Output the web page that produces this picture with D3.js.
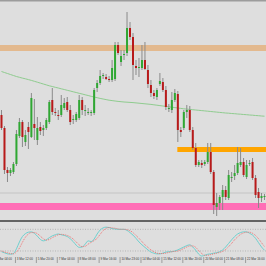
<!DOCTYPE html>
<html><head><meta charset="utf-8">
<script src="https://cdn.jsdelivr.net/npm/d3@7"></script>
<style>html,body{margin:0;padding:0;background:#dedede;overflow:hidden}svg{display:block}</style>
</head><body>
<script>
// ---- DATA ----
// OHLC per bar: [open, high, low, close]
const candles = [
[1.0785,1.0790,1.0770,1.0772],[1.0772,1.0774,1.0726,1.0730],[1.0730,1.0733,1.0718,1.0727],[1.0727,1.0732,1.0724,1.0730],
[1.0728,1.0738,1.0726,1.0736],[1.0736,1.0770,1.0734,1.0766],[1.0764,1.0782,1.0762,1.0778],[1.0778,1.0780,1.0753,1.0763],
[1.0758,1.0770,1.0754,1.0765],[1.0773,1.0778,1.0751,1.0768],[1.0763,1.0807,1.0762,1.0802],[1.0776,1.0801,1.0760,1.0772],
[1.0760,1.0783,1.0755,1.0772],[1.0773,1.0778,1.0765,1.0769],[1.0770,1.0775,1.0764,1.0772],[1.0772,1.0782,1.0770,1.0780],
[1.0778,1.0800,1.0776,1.0798],[1.0800,1.0812,1.0785,1.0788],[1.0788,1.0792,1.0784,1.0787],[1.0785,1.0790,1.0780,1.0784],
[1.0785,1.0805,1.0783,1.0795],[1.0792,1.0802,1.0790,1.0797],[1.0798,1.0803,1.0788,1.0790],[1.0790,1.0795,1.0775,1.0778],
[1.0780,1.0785,1.0776,1.0781],[1.0780,1.0788,1.0778,1.0786],[1.0782,1.0805,1.0780,1.0800],[1.0800,1.0803,1.0785,1.0790],
[1.0789,1.0795,1.0784,1.0790],[1.0788,1.0792,1.0785,1.0788],[1.0787,1.0790,1.0784,1.0788],[1.0787,1.0812,1.0785,1.0810],
[1.0812,1.0820,1.0808,1.0817],[1.0817,1.0830,1.0815,1.0824],[1.0824,1.0827,1.0821,1.0825],[1.0823,1.0826,1.0820,1.0821],
[1.0821,1.0824,1.0818,1.0820],[1.0820,1.0840,1.0818,1.0832],[1.0821,1.0858,1.0819,1.0855],[1.0855,1.0858,1.0845,1.0847],
[1.0838,1.0850,1.0834,1.0844],[1.0845,1.0850,1.0840,1.0846],[1.0847,1.0888,1.0844,1.0872],[1.0872,1.0878,1.0860,1.0863],
[1.0863,1.0867,1.0820,1.0835],[1.0834,1.0840,1.0825,1.0832],[1.0832,1.0842,1.0823,1.0833],[1.0832,1.0855,1.0830,1.0840],
[1.0840,1.0858,1.0830,1.0831],[1.0830,1.0835,1.0812,1.0816],[1.0815,1.0820,1.0803,1.0807],[1.0807,1.0810,1.0801,1.0804],
[1.0803,1.0812,1.0800,1.0810],[1.0816,1.0827,1.0814,1.0819],[1.0818,1.0822,1.0808,1.0810],[1.0810,1.0814,1.0790,1.0793],
[1.0792,1.0796,1.0788,1.0792],[1.0790,1.0808,1.0787,1.0800],[1.0800,1.0811,1.0798,1.0807],[1.0806,1.0809,1.0758,1.0770],
[1.0770,1.0773,1.0763,1.0768],[1.0772,1.0790,1.0770,1.0788],[1.0788,1.0795,1.0782,1.0790],[1.0790,1.0794,1.0768,1.0770],
[1.0770,1.0773,1.0750,1.0752],[1.0752,1.0757,1.0733,1.0735],[1.0735,1.0740,1.0733,1.0738],[1.0737,1.0740,1.0732,1.0735],
[1.0736,1.0740,1.0734,1.0738],[1.0738,1.0757,1.0736,1.0748],[1.0748,1.0757,1.0726,1.0728],[1.0728,1.0730,1.0686,1.0695],
[1.0693,1.0707,1.0684,1.0697],[1.0697,1.0705,1.0690,1.0703],[1.0703,1.0715,1.0690,1.0710],[1.0710,1.0714,1.0700,1.0703],
[1.0702,1.0730,1.0700,1.0725],[1.0722,1.0728,1.0718,1.0723],[1.0724,1.0735,1.0720,1.0727],[1.0727,1.0753,1.0725,1.0737],
[1.0735,1.0752,1.0733,1.0738],[1.0738,1.0742,1.0723,1.0725],[1.0723,1.0740,1.0721,1.0735],[1.0736,1.0740,1.0734,1.0737],
[1.0738,1.0742,1.0720,1.0722],[1.0722,1.0725,1.0702,1.0705],[1.0708,1.0712,1.0692,1.0702],[1.0702,1.0707,1.0698,1.0704],
[1.0703,1.0706,1.0700,1.0704]
];
// long-period moving average per bar
const maValues = [
1.08285,1.08275,1.08265,1.08255,1.08245,1.08235,1.08227,1.08219,1.08212,1.08204,1.08196,1.08187,1.08178,1.08169,1.08160,1.08151,
1.08142,1.08135,1.08127,1.08120,1.08112,1.08105,1.08097,1.08090,1.08082,1.08075,1.08067,1.08060,1.08052,1.08045,1.08037,1.08030,
1.08023,1.08016,1.08010,1.08004,1.07998,1.07994,1.07990,1.07986,1.07983,1.07980,1.07978,1.07976,1.07974,1.07971,1.07968,1.07965,
1.07962,1.07959,1.07956,1.07952,1.07948,1.07944,1.07940,1.07936,1.07932,1.07928,1.07924,1.07920,1.07916,1.07912,1.07909,1.07906,
1.07903,1.07900,1.07897,1.07894,1.07891,1.07888,1.07885,1.07882,1.07879,1.07876,1.07873,1.07870,1.07868,1.07865,1.07863,1.07860,
1.07858,1.07855,1.07853,1.07850,1.07848,1.07845,1.07843,1.07840,1.07838
];
// stochastic oscillator: main and signal
const stochMain = [18,15,12,11,13,26,45,60,68,72,73,69,61,52,48,51,57,62,65,67,65,63,60,54,46,36,30,31,39,48,46,53,67,78,84,86,85,82,81,80,80,80,77,71,64,55,45,37,30,23,17,14,12,12,14,17,18,18,20,23,27,31,35,37,31,22,11,6,8,11,12,14,15,18,23,31,41,51,60,67,71,73,73,69,64,55,43,31,22];
const stochSignal = [20,17,15,13,12,17,28,44,58,67,71,71,68,61,54,50,52,57,61,65,66,65,63,59,53,45,37,32,33,39,44,49,55,66,76,83,85,84,83,81,80,80,79,76,71,63,55,46,37,30,23,18,14,13,13,14,16,18,19,20,23,27,31,34,34,30,21,13,8,8,10,12,14,16,19,24,32,41,51,59,66,70,72,72,69,63,54,43,32];
const stochLevels = [80, 20];
// horizontal zones [low, high]
const resistanceZone = [1.0849, 1.0855];
const midZone = [1.0748, 1.0753];
const midZoneStartBar = 59;
const supportZone = [1.0690, 1.0697];
const bidLine = 1.0707;
// time axis
const timeLabels = ["2 Mar 04:00","3 Mar 12:00","5 Mar 20:00","7 Mar 04:00","8 Mar 08:00","9 Mar 16:00","10 Mar 23:00","14 Mar 04:00","15 Mar 12:00","16 Mar 20:00","20 Mar 04:00","21 Mar 08:00","22 Mar 16:00"];
const timeLabelBars = [-2,5,12,19,26,33,40,47,54,61,68,75,82];

// ---- DRAW ----
const W = 266, H = 266;
const svg = d3.select("body").append("svg").attr("width", W).attr("height", H);
svg.append("rect").attr("width", W).attr("height", H).attr("fill", "#dedede");

const x = d3.scaleLinear().domain([0, candles.length]).range([0, W]);
const y = d3.scaleLinear().domain([1.0900, 1.0634]).range([0, 266]);
const ys = d3.scaleLinear().domain([0, 100]).range([258.2, 222.1]);

// top frame line
svg.append("line").attr("x1", 0).attr("x2", W).attr("y1", 0.75).attr("y2", 0.75)
  .attr("stroke", "#9c9c9c").attr("stroke-width", 1.5);

// zones
svg.append("rect").attr("x", 0).attr("width", W)
  .attr("y", y(resistanceZone[1])).attr("height", y(resistanceZone[0]) - y(resistanceZone[1]))
  .attr("fill", "#e3b98e");
svg.append("rect").attr("x", x(midZoneStartBar) + 1).attr("width", W - x(midZoneStartBar) - 1)
  .attr("y", y(midZone[1])).attr("height", y(midZone[0]) - y(midZone[1]))
  .attr("fill", "#ffa500");
svg.append("rect").attr("x", 0).attr("width", W)
  .attr("y", y(supportZone[1])).attr("height", y(supportZone[0]) - y(supportZone[1]))
  .attr("fill", "#ff6eb6");
svg.append("line").attr("x1", 0).attr("x2", W).attr("y1", y(bidLine)).attr("y2", y(bidLine))
  .attr("stroke", "#c4c4c4").attr("stroke-width", 1);

// moving average
svg.append("path").datum(maValues)
  .attr("d", d3.line().x((d, i) => x(i + 0.5)).y(d => y(d)))
  .attr("fill", "none").attr("stroke", "#8fcc8f").attr("stroke-width", 1);

// candles
const g = svg.append("g");
candles.forEach((c, i) => {
  const [o, h, l, cl] = c;
  const cx = x(i + 0.5);
  const up = cl >= o;
  g.append("line").attr("x1", cx).attr("x2", cx).attr("y1", y(h)).attr("y2", y(l))
    .attr("stroke", "#8a8a8a").attr("stroke-width", 1);
  const top = y(Math.max(o, cl)), bot = y(Math.min(o, cl));
  g.append("rect").attr("x", cx - 1).attr("width", 2)
    .attr("y", top).attr("height", Math.max(1, bot - top))
    .attr("fill", up ? "#2fa833" : "#b81a1a");
});

// separator
svg.append("line").attr("x1", 0).attr("x2", W).attr("y1", 221).attr("y2", 221)
  .attr("stroke", "#3a3a3a").attr("stroke-width", 1.4);

// stoch levels
stochLevels.forEach(v => {
  svg.append("line").attr("x1", 0).attr("x2", W).attr("y1", ys(v)).attr("y2", ys(v))
    .attr("stroke", "#a9a9a9").attr("stroke-width", 0.8).attr("stroke-dasharray", "1,1.5");
});
const sl = d3.line().x((d, i) => x(i + 0.5)).y(d => ys(d)).curve(d3.curveMonotoneX);
svg.append("path").datum(stochMain).attr("d", sl)
  .attr("fill", "none").attr("stroke", "#6fd0cf").attr("stroke-width", 1);
svg.append("path").datum(stochSignal).attr("d", sl)
  .attr("fill", "none").attr("stroke", "#f06a6a").attr("stroke-width", 0.9).attr("stroke-dasharray", "1,1");

// time axis
const axis = d3.axisBottom(x).tickValues(timeLabelBars)
  .tickFormat((d, i) => timeLabels[i]).tickSize(6).tickSizeOuter(0);
const ax = svg.append("g").attr("transform", "translate(0,257)").call(axis);
ax.select(".domain").remove();
ax.selectAll(".tick line").attr("stroke", "#707070").attr("stroke-width", 0.6);
ax.selectAll(".tick text").attr("text-anchor", "start").attr("x", 1.4).attr("y", 1)
  .attr("dy", "0.71em")
  .attr("font-family", "'Liberation Sans', Arial, sans-serif").attr("font-size", 3).attr("fill", "#333");
</script>
</body></html>
